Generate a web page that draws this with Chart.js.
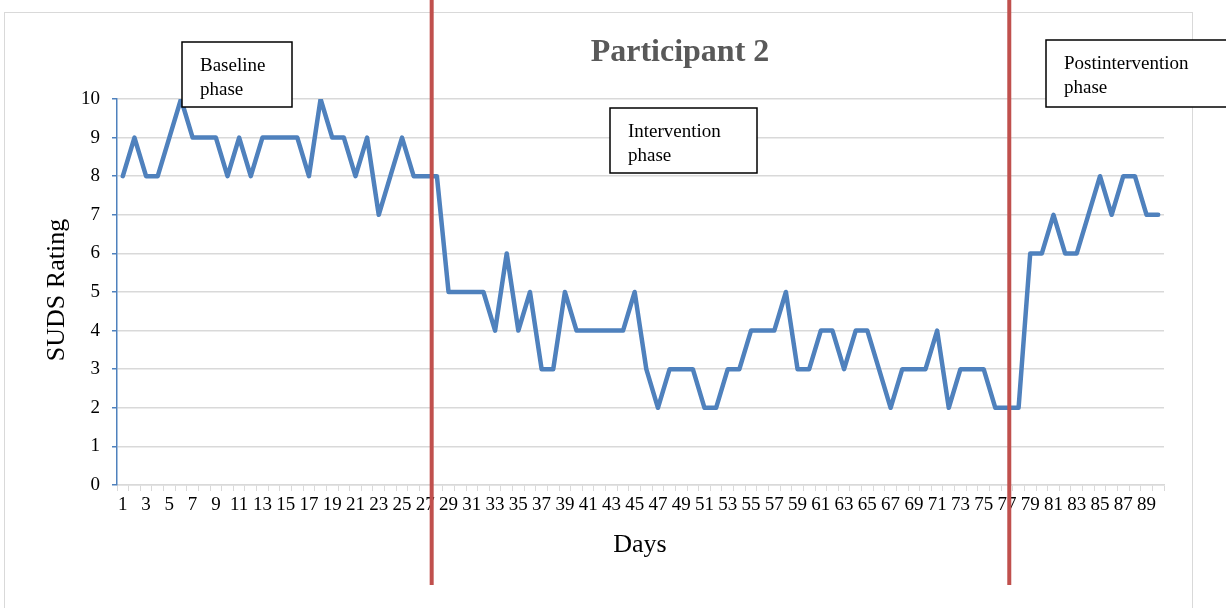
<!DOCTYPE html>
<html>
<head>
<meta charset="utf-8">
<style>
  html, body { margin: 0; padding: 0; background: #fff; }
  #wrap { width: 1226px; height: 608px; }
</style>
<script src="https://cdn.jsdelivr.net/npm/chart.js@4"></script>
</head>
<body>
<div id="wrap"><canvas id="lineChart" width="1226" height="608"></canvas></div>
<script>
// days 1..90
const days = Array.from({length: 90}, (_, i) => String(i + 1));
const suds = [
  8, 9, 8, 8, 9, 10, 9, 9, 9, 8, 9, 8, 9, 9, 9, 9, 8, 10, 9, 9, 8, 9, 7, 8, 9, 8, 8, 8,
  5, 5, 5, 5, 4, 6, 4, 5, 3, 3, 5, 4, 4, 4, 4, 4, 5, 3, 2, 3, 3, 3, 2, 2, 3, 3, 4, 4, 4, 5,
  3, 3, 4, 4, 3, 4, 4, 3, 2, 3, 3, 3, 4, 2, 3, 3, 3, 2, 2, 2,
  6, 6, 7, 6, 6, 7, 8, 7, 8, 8, 7, 7
];
const yTicks = [0, 1, 2, 3, 4, 5, 6, 7, 8, 9, 10];
// phase change markers (category index, between days)
const phaseLines = [26.55, 76.2];
const phaseBoxes = [
  {lines: ["Baseline", "phase"], x: 182, y: 42, w: 110, h: 65},
  {lines: ["Intervention", "phase"], x: 610, y: 108, w: 147, h: 65},
  {lines: ["Postintervention", "phase"], x: 1046, y: 40, w: 190, h: 67}
];

const serif = "'Liberation Serif', 'Times New Roman', serif";

const decor = {
  id: 'decor',
  beforeDraw(chart) {
    const ctx = chart.ctx;
    ctx.save();
    ctx.fillStyle = '#fff';
    ctx.fillRect(0, 0, chart.width, chart.height);
    ctx.strokeStyle = '#d9d9d9';
    ctx.lineWidth = 1;
    ctx.strokeRect(4.5, 12.5, 1188, 620);
    ctx.restore();
  },
  afterDraw(chart) {
    const ctx = chart.ctx;
    const xs = chart.scales.x;
    ctx.save();
    // red phase lines
    ctx.strokeStyle = '#c0504d';
    ctx.lineWidth = 4;
    phaseLines.forEach(v => {
      const px = xs.getPixelForValue(v);
      ctx.beginPath();
      ctx.moveTo(px, 0);
      ctx.lineTo(px, 585);
      ctx.stroke();
    });
    // text boxes
    ctx.font = '19px ' + serif;
    ctx.textBaseline = 'middle';
    ctx.textAlign = 'left';
    phaseBoxes.forEach(b => {
      ctx.fillStyle = '#fff';
      ctx.fillRect(b.x, b.y, b.w, b.h);
      ctx.strokeStyle = '#000';
      ctx.lineWidth = 1.5;
      ctx.strokeRect(b.x, b.y, b.w, b.h);
      ctx.fillStyle = '#000';
      b.lines.forEach((t, i) => ctx.fillText(t, b.x + 18, b.y + 24 + i * 24));
    });
    // title
    ctx.fillStyle = '#595959';
    ctx.font = 'bold 32px ' + serif;
    ctx.textAlign = 'center';
    ctx.fillText('Participant 2', 680, 53);
    // axis titles
    ctx.fillStyle = '#000';
    ctx.font = '26px ' + serif;
    ctx.fillText('Days', 640, 545);
    ctx.translate(57, 290);
    ctx.rotate(-Math.PI / 2);
    ctx.fillText('SUDS Rating', 0, 0);
    ctx.restore();
  }
};

new Chart("lineChart", {
  type: "line",
  data: {
    labels: days,
    datasets: [{
      data: suds,
      borderColor: "#4f81bd",
      borderWidth: 4.5,
      borderJoinStyle: 'round',
      borderCapStyle: 'round',
      pointRadius: 0,
      fill: false,
      tension: 0
    }]
  },
  options: {
    responsive: false,
    animation: false,
    events: [],
    layout: {padding: {top: 99, right: 62, left: 0, bottom: 0}},
    plugins: {
      legend: {display: false},
      tooltip: {enabled: false}
    },
    scales: {
      x: {
        offset: true,
        afterFit: s => { s.height = 123; },
        grid: {
          offset: true,
          drawOnChartArea: false,
          drawTicks: true,
          tickLength: 6,
          tickColor: '#d9d9d9'
        },
        border: {color: '#d9d9d9', width: 1.5},
        ticks: {
          autoSkip: false,
          maxRotation: 0,
          padding: 3,
          color: '#000',
          font: {family: serif, size: 19},
          callback: (v, i) => (i % 2 === 0 ? days[i] : '')
        }
      },
      y: {
        min: yTicks[0],
        max: yTicks[yTicks.length - 1],
        afterFit: s => { s.width = 117; },
        afterBuildTicks: s => { s.ticks = yTicks.map(v => ({value: v})); },
        grid: {
          color: '#d9d9d9',
          lineWidth: 1.5,
          tickLength: 5,
          tickColor: '#4f81bd'
        },
        border: {color: '#4f81bd', width: 1.5},
        ticks: {
          padding: 12,
          color: '#000',
          font: {family: serif, size: 19}
        }
      }
    }
  },
  plugins: [decor]
});
</script>
</body>
</html>
